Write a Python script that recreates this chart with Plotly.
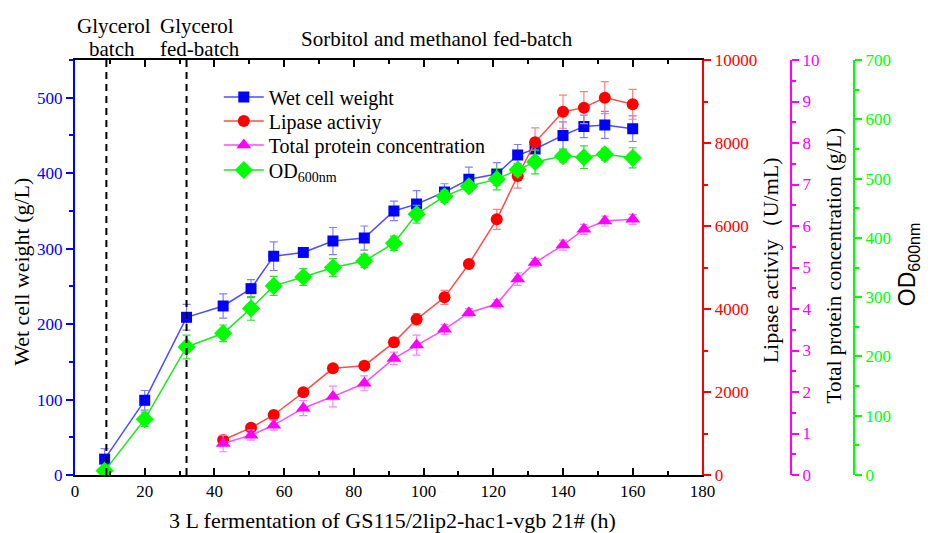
import plotly.graph_objects as go

# ---- data ----
time_h = [8.5, 20, 32, 42.5, 50.5, 57, 65.5, 74, 83, 91.5, 98, 106, 113, 121, 127, 132, 140, 146, 152, 160]
time_late = time_h[3:]

wet_cell_weight = [21, 99, 209, 224, 247, 290, 295, 310, 314, 350, 359, 375, 392, 399, 424, 432, 450, 462, 464, 459]
wet_cell_err = [14, 13, 17, 16, 12, 19, 6, 18, 16, 13, 18, 11, 16, 15, 14, 12, 18, 15, 18, 17]

od600 = [7, 94, 216, 239, 281, 319, 334, 350, 361, 391, 440, 470, 487, 499, 515, 528, 538, 536, 541, 535]
od600_err = [8, 12, 20, 14, 20, 16, 14, 15, 11, 12, 15, 10, 7, 18, 10, 20, 10, 19, 10, 17]

lipase = [843, 1140, 1446, 1992, 2570, 2635, 3197, 3751, 4281, 5084, 6160, 7205, 8016, 8755, 8852, 9093, 8932]
lipase_err = [60, 80, 70, 60, 70, 90, 110, 140, 170, 80, 240, 290, 350, 400, 385, 385, 360]

protein = [0.76, 0.96, 1.20, 1.61, 1.89, 2.21, 2.81, 3.13, 3.51, 3.91, 4.12, 4.72, 5.12, 5.54, 5.92, 6.12, 6.16]
protein_err = [0.2, 0.12, 0.12, 0.18, 0.25, 0.18, 0.15, 0.24, 0.12, 0.1, 0.1, 0.15, 0.1, 0.12, 0.12, 0.12, 0.12]

phase_boundaries = [9, 32]

SERIF = "Liberation Serif"
SANS = "Liberation Sans"
W, H = 938, 533
ML, MR, MT, MB = 75, 0, 60, 58
PW = W - ML - MR
PH = H - MT - MB
TICK_FS = 17


def px(xp):
    return (xp - ML) / PW


def py(yp):
    return (H - MB - yp) / PH


fig = go.Figure()

fig.add_trace(go.Scatter(
    x=time_h, y=wet_cell_weight, name="Wet cell weight", mode="lines+markers",
    line=dict(color="#4d4dff", width=1.5),
    marker=dict(symbol="square", size=11, color="#0000ff"),
    error_y=dict(type="data", array=wet_cell_err, color="#8080ff", thickness=1.2, width=4),
    yaxis="y", legend="legend"))

fig.add_trace(go.Scatter(
    x=time_late, y=lipase, name="Lipase activiy", mode="lines+markers",
    line=dict(color="#ff4d4d", width=1.5),
    marker=dict(symbol="circle", size=12, color="#ff0000"),
    error_y=dict(type="data", array=lipase_err, color="#ff8080", thickness=1.2, width=4),
    yaxis="y2", legend="legend2"))

fig.add_trace(go.Scatter(
    x=time_late, y=protein, name="Total protein concentration", mode="lines+markers",
    line=dict(color="#ff4dff", width=1.5),
    marker=dict(symbol="triangle-up", size=13, color="#ff00ff"),
    error_y=dict(type="data", array=protein_err, color="#ff80ff", thickness=1.2, width=4),
    yaxis="y3", legend="legend3"))

fig.add_trace(go.Scatter(
    x=time_h, y=od600, name="OD<sub>600nm</sub>", mode="lines+markers",
    line=dict(color="#1ee81e", width=1.5),
    marker=dict(symbol="diamond", size=14, color="#00ff00"),
    error_y=dict(type="data", array=od600_err, color="#33dd33", thickness=1.2, width=4),
    yaxis="y4", legend="legend4"))

for xb in phase_boundaries:
    fig.add_shape(type="line", xref="x", yref="paper", x0=xb, x1=xb, y0=0, y1=1,
                  line=dict(color="black", width=2, dash="7px,5px"))


def yax(color, rng, dtick, minor, **kw):
    d = dict(range=rng, dtick=dtick, showgrid=False, zeroline=False,
             showline=True, linecolor=color, linewidth=2,
             ticks="outside", ticklen=7, tickwidth=1.5, tickcolor=color,
             minor=dict(dtick=minor, ticks="outside", ticklen=4, tickwidth=1.5, tickcolor=color),
             tickformat="d",
             tickfont=dict(family=SERIF, size=TICK_FS, color=color))
    d.update(kw)
    return d


def leg(row_y):
    return dict(x=px(221), y=py(row_y), xanchor="left", yanchor="middle",
                font=dict(family=SERIF, size=20, color="black"),
                bgcolor="rgba(0,0,0,0)", itemwidth=40)


fig.update_layout(
    width=W, height=H,
    margin=dict(l=ML, r=MR, t=MT, b=MB),
    paper_bgcolor="white", plot_bgcolor="white",
    showlegend=True,
    legend=leg(97), legend2=leg(121), legend3=leg(145), legend4=leg(170),
    xaxis=dict(domain=[0, px(712)], range=[0, 180], dtick=20, showgrid=False, zeroline=False,
               showline=True, linecolor="black", linewidth=1.5, mirror="ticks",
               ticks="inside", ticklen=7, tickwidth=1.5, tickcolor="black",
               minor=dict(dtick=10, ticks="inside", ticklen=4, tickwidth=1.5, tickcolor="black"),
               tickfont=dict(family=SERIF, size=TICK_FS, color="black")),
    yaxis=yax("#0000ff", [0, 550], 100, 50, side="left"),
    yaxis2=yax("#ff0000", [0, 10000], 2000, 1000, overlaying="y", side="right", anchor="x"),
    yaxis3=yax("#ff00ff", [0, 10], 1, 0.5, overlaying="y", side="right", anchor="free",
               position=px(802), tickformat=None),
    yaxis4=yax("#00ff00", [0, 700], 100, 50, overlaying="y", side="right", anchor="free", position=px(866)),
)

ann = [
    dict(text="Wet cell weight (g/L)", x=px(20), y=py(272), textangle=-90,
         font=dict(family=SERIF, size=22, color="black")),
    dict(text="Lipase activiy（U/mL)", x=px(781), y=py(260), textangle=-90,
         font=dict(family=SERIF, size=22, color="black")),
    dict(text="Total protein concentration (g/L)", x=px(846), y=py(265), textangle=-90,
         font=dict(family=SERIF, size=21, color="black")),
    dict(text="OD<sub>600nm</sub>", x=px(921), y=py(264), textangle=-90,
         font=dict(family=SANS, size=23, color="black")),
    dict(text="3 L fermentation of GS115/2lip2-hac1-vgb 21# (h)", x=px(397), y=py(520),
         font=dict(family=SERIF, size=22, color="black")),
    dict(text="Glycerol", x=px(115), y=py(26), font=dict(family=SERIF, size=21, color="black")),
    dict(text="batch", x=px(113), y=py(49), font=dict(family=SERIF, size=21, color="black")),
    dict(text="Glycerol", x=px(199), y=py(26), font=dict(family=SERIF, size=21, color="black")),
    dict(text="fed-batch", x=px(202), y=py(49), font=dict(family=SERIF, size=21, color="black")),
    dict(text="Sorbitol and methanol fed-batch", x=px(443), y=py(39),
         font=dict(family=SERIF, size=21, color="black")),
]
for a in ann:
    fig.add_annotation(xref="paper", yref="paper", showarrow=False,
                       xanchor="center", yanchor="middle", **a)

fig.write_html("out.html")
